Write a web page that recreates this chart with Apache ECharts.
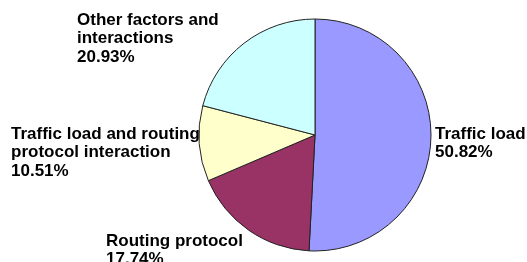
<!DOCTYPE html>
<html>
<head>
<meta charset="utf-8">
<script src="https://cdn.jsdelivr.net/npm/echarts@6/dist/echarts.min.js"></script>
<style>
  html, body { margin: 0; padding: 0; background: #fff; }
  #chart { width: 527px; height: 262px; }
</style>
</head>
<body>
<div id="chart"></div>
<script>
// data
const names = ['Traffic load', 'Routing protocol', 'Traffic load and routing\nprotocol interaction', 'Other factors and\ninteractions']
const values = [50.82, 17.74, 10.51, 20.93]
const colors = ['#9999ff', '#993366', '#ffffcc', '#ccffff']

// label anchor (top-left of each text block)
const labelPos = [[435, 125], [106, 232], [11, 125], [77, 11]]

const myChart = echarts.init(document.getElementById('chart'))
const option = {
  animation: false,
  series: [
    {
      type: 'pie',
      center: [315, 135],
      radius: 116,
      startAngle: 90,
      clockwise: true,
      avoidLabelOverlap: false,
      itemStyle: {
        borderColor: '#222',
        borderWidth: 1
      },
      label: {
        show: true,
        position: 'outside',
        formatter: p => p.name + '\n' + p.value.toFixed(2) + '%',
        fontFamily: 'Liberation Sans, Arial, sans-serif',
        fontWeight: 'bold',
        fontSize: 17,
        lineHeight: 18.5,
        color: '#000'
      },
      labelLine: { show: false },
      labelLayout: params => ({
        x: labelPos[params.dataIndex][0],
        y: labelPos[params.dataIndex][1],
        align: 'left',
        verticalAlign: 'top'
      }),
      emphasis: { disabled: true },
      data: values.map((v, i) => ({ name: names[i], value: v, itemStyle: { color: colors[i] } }))
    }
  ]
}
myChart.setOption(option, true)
</script>
</body>
</html>
